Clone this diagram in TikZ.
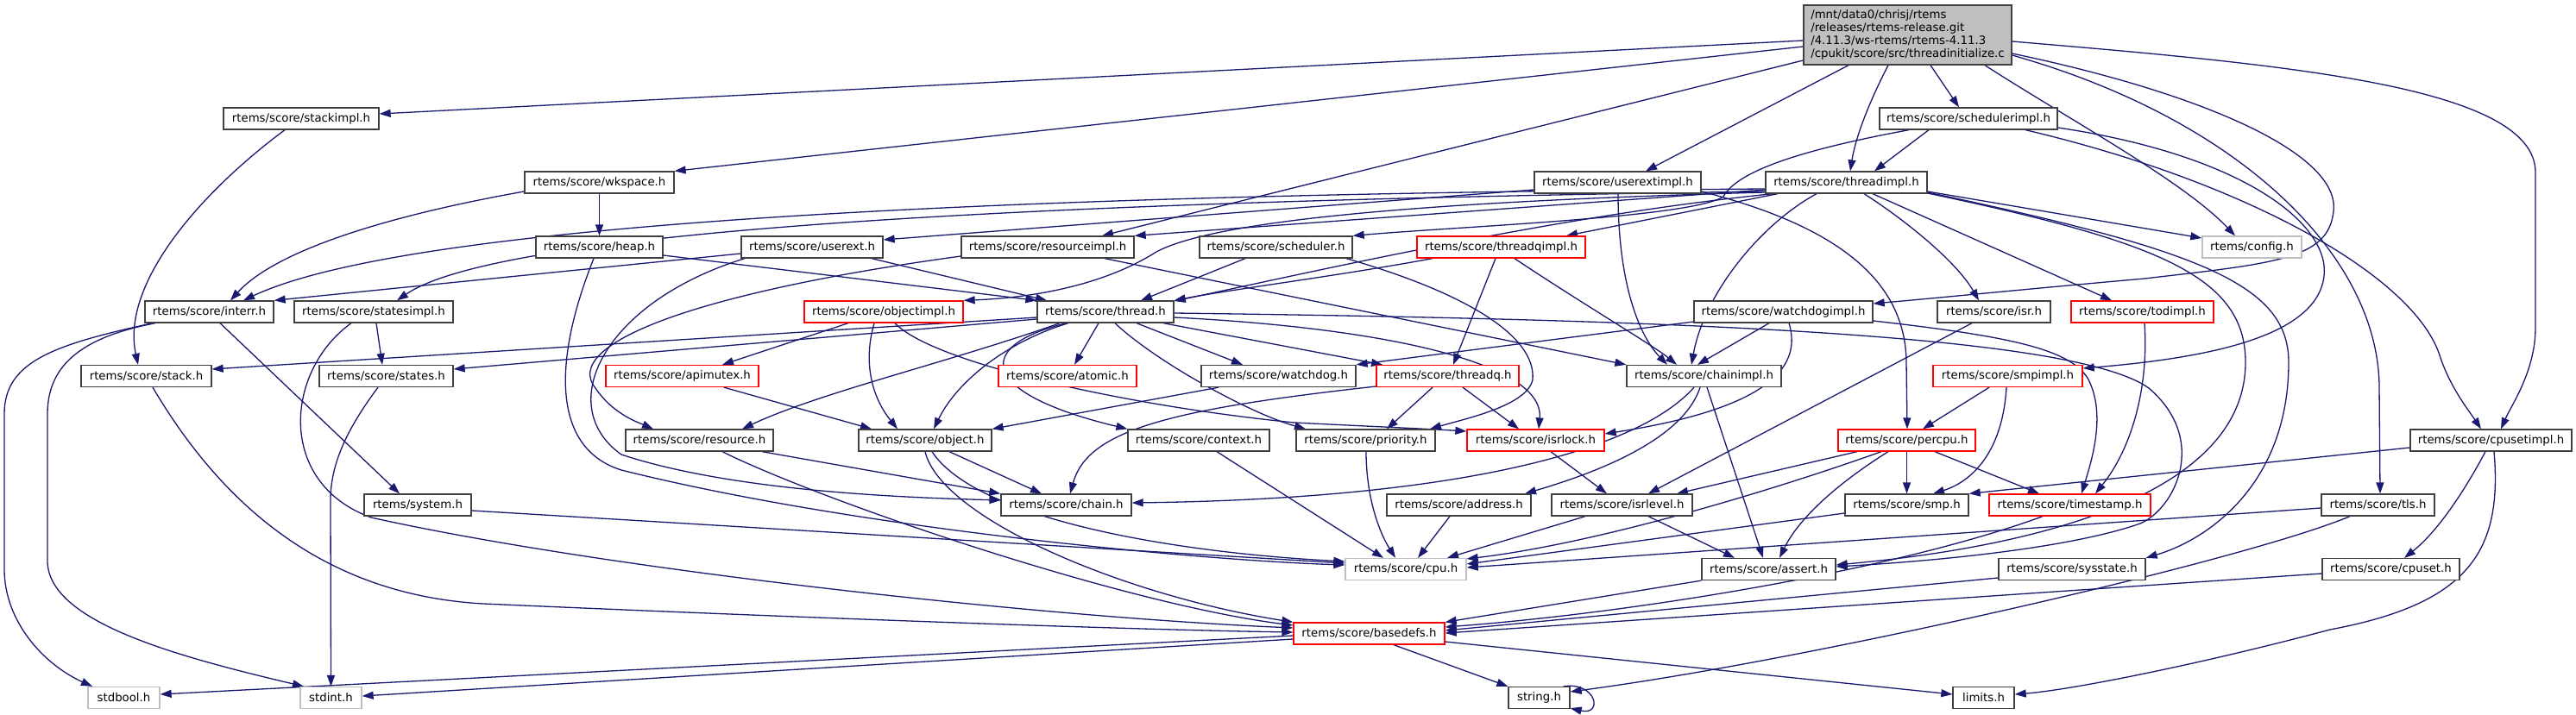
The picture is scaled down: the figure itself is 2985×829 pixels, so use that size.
\documentclass[tikz,border=0pt]{standalone}
\usepackage{fontspec}
\setmainfont{DejaVu Sans}
\usetikzlibrary{arrows.meta}
\definecolor{edgec}{HTML}{191970}
\definecolor{nodeb}{HTML}{404040}
\definecolor{greyb}{HTML}{BFBFBF}
\definecolor{redb}{HTML}{FF0000}
\pgfdeclarelayer{back}
\pgfdeclarelayer{edges}
\pgfsetlayers{back,edges,main}
\newcommand{\dxfont}{\fontsize{13.3}{15}\selectfont}
\begin{document}
\begin{tikzpicture}[x=1pt,y=-1pt,
  nd/.style={draw=nodeb, line width=1.3pt, fill=white, minimum height=25pt, inner sep=2pt, font=\dxfont, text=black},
  rd/.style={nd, draw=redb},
  gd/.style={nd, draw=greyb},
  e/.style={draw=edgec, line width=1.3pt, -{Triangle[length=13pt,width=9pt]}}]
\useasboundingbox (0,0) rectangle (2985,829);
\begin{pgfonlayer}{back}
\fill[white] (0,0) rectangle (2985,829);
\end{pgfonlayer}
% nodes
\node[nd, fill=greyb, minimum width=241pt, minimum height=69pt, align=left] (M) at (2210.5,40.5) {/mnt/data0/chrisj/rtems\\/releases/rtems-release.git\\/4.11.3/ws-rtems/rtems-4.11.3\\/cpukit/score/src/threadinitialize.c};
\node[nd, minimum width=180pt] (stackimpl) at (349,137.5) {rtems/score/stackimpl.h};
\node[nd, minimum width=206pt] (SI) at (2281,137.5) {rtems/score/schedulerimpl.h};
\node[nd, minimum width=173pt] (wkspace) at (694.5,211.5) {rtems/score/wkspace.h};
\node[nd, minimum width=187pt] (TI) at (2139.5,211.5) {rtems/score/threadimpl.h};
\node[nd, minimum width=193pt] (userextimpl) at (1874.5,211.5) {rtems/score/userextimpl.h};
\node[nd, minimum width=147pt] (heap) at (694.5,286.5) {rtems/score/heap.h};
\node[nd, minimum width=164pt] (userext) at (941,286.5) {rtems/score/userext.h};
\node[nd, minimum width=200pt] (resourceimpl) at (1214,286.5) {rtems/score/resourceimpl.h};
\node[nd, minimum width=177pt] (scheduler) at (1478.5,286.5) {rtems/score/scheduler.h};
\node[rd, minimum width=195pt] (threadqimpl) at (1739.5,286.5) {rtems/score/threadqimpl.h};
\node[gd, minimum width=115pt] (config) at (2609.5,286.5) {rtems/config.h};
\node[nd, minimum width=149pt] (interr) at (242.5,361.5) {rtems/score/interr.h};
\node[nd, minimum width=184pt] (statesimpl) at (433,361.5) {rtems/score/statesimpl.h};
\node[rd, minimum width=184pt] (objectimpl) at (1024,361.5) {rtems/score/objectimpl.h};
\node[nd, minimum width=158pt] (thread) at (1281,361.5) {rtems/score/thread.h};
\node[nd, minimum width=207pt] (watchdogimpl) at (2066.5,361.5) {rtems/score/watchdogimpl.h};
\node[nd, minimum width=131pt] (isr) at (2310.5,361.5) {rtems/score/isr.h};
\node[rd, minimum width=165pt] (todimpl) at (2482.5,361.5) {rtems/score/todimpl.h};
\node[nd, minimum width=151pt] (stack) at (169.5,436) {rtems/score/stack.h};
\node[nd, minimum width=155pt] (states) at (447.5,436) {rtems/score/states.h};
\node[rd, minimum width=177pt] (apimutex) at (790.5,436) {rtems/score/apimutex.h};
\node[rd, minimum width=160pt] (atomic) at (1237,436) {rtems/score/atomic.h};
\node[nd, minimum width=179pt] (watchdog) at (1481.5,436) {rtems/score/watchdog.h};
\node[rd, minimum width=165pt] (threadq) at (1677.5,436) {rtems/score/threadq.h};
\node[nd, minimum width=179pt] (chainimpl) at (1974.5,436) {rtems/score/chainimpl.h};
\node[rd, minimum width=173pt] (smpimpl) at (2326.5,436) {rtems/score/smpimpl.h};
\node[nd, minimum width=171pt] (resource) at (810.5,510.5) {rtems/score/resource.h};
\node[nd, minimum width=154pt] (object) at (1072,510.5) {rtems/score/object.h};
\node[nd, minimum width=164pt] (context) at (1389,510.5) {rtems/score/context.h};
\node[nd, minimum width=161pt] (priority) at (1582.5,510.5) {rtems/score/priority.h};
\node[rd, minimum width=159pt] (isrlock) at (1779.5,510.5) {rtems/score/isrlock.h};
\node[rd, minimum width=159pt] (percpu) at (2209.5,510.5) {rtems/score/percpu.h};
\node[nd, minimum width=187pt] (cpusetimpl) at (2886.5,510.5) {rtems/score/cpusetimpl.h};
\node[nd, minimum width=124pt] (system) at (484,585.5) {rtems/system.h};
\node[nd, minimum width=151pt] (chain) at (1235.5,585.5) {rtems/score/chain.h};
\node[nd, minimum width=167pt] (address) at (1690.5,585.5) {rtems/score/address.h};
\node[nd, minimum width=163pt] (isrlevel) at (1879.5,585.5) {rtems/score/isrlevel.h};
\node[nd, minimum width=143pt] (smp) at (2209.5,585.5) {rtems/score/smp.h};
\node[rd, minimum width=187pt] (timestamp) at (2398.5,585.5) {rtems/score/timestamp.h};
\node[nd, minimum width=131pt] (tls) at (2755.5,585.5) {rtems/score/tls.h};
\node[gd, minimum width=140pt] (cpu) at (1629,660) {rtems/score/cpu.h};
\node[nd, minimum width=155pt] (assert) at (2049.5,660) {rtems/score/assert.h};
\node[nd, minimum width=170pt] (sysstate) at (2401,660) {rtems/score/sysstate.h};
\node[nd, minimum width=159pt] (cpuset) at (2770.5,660) {rtems/score/cpuset.h};
\node[rd, minimum width=175pt] (basedefs) at (1586.5,734.5) {rtems/score/basedefs.h};
\node[gd, minimum width=83pt] (stdbool) at (143.5,809) {stdbool.h};
\node[gd, minimum width=71pt] (stdint) at (383.5,809) {stdint.h};
\node[nd, minimum width=71pt] (string) at (1783.5,809) {string.h};
\node[nd, minimum width=71pt] (limits) at (2298.5,809) {limits.h};
% edges
\begin{pgfonlayer}{edges}
\draw[e] ([yshift=-6.5pt]M.west) -- ([yshift=5.5pt]stackimpl.east);
\draw[e] ([yshift=-13.5pt]M.west) -- (wkspace.north east);
\draw[e] ([yshift=-29.5pt]M.west) -- ([xshift=63pt]resourceimpl.north);
\draw[e] ([xshift=-68.5pt]M.south) -- ([xshift=32.5pt]userextimpl.north);
\draw[e] ([xshift=-22.5pt]M.south) .. controls (2165,120) and (2150,160) .. ([xshift=4.5pt]TI.north);
\draw[e] ([xshift=26.5pt]M.south) -- ([xshift=-11pt]SI.north);
\draw[e] ([xshift=89.5pt]M.south) .. controls (2400,140) and (2530,210) .. ([xshift=-19.5pt]config.north);
\draw[e] ([yshift=-21.5pt]M.east) .. controls (2560,110) and (2712,180) .. (2704,245) .. controls (2698,300) and (2640,305) .. (2485,323) .. controls (2350,335) and (2250,345) .. ([yshift=9.5pt]watchdogimpl.east);
\draw[e] ([yshift=-7.5pt]M.east) .. controls (2650,75) and (2938,100) .. (2938,200) -- (2938,380) .. controls (2938,430) and (2910,470) .. ([xshift=11.5pt]cpusetimpl.north);
\draw[e] ([yshift=-23.5pt]M.east) .. controls (2600,140) and (2757,300) .. (2757,450) -- ([xshift=2.5pt]tls.north);
\draw[e] ([xshift=-46pt]SI.south) -- ([xshift=32.5pt]TI.north);
\draw[e] ([xshift=-69pt]SI.south) .. controls (2080,175) and (2012,200) .. (1997,228) .. controls (1960,252) and (1700,262) .. (scheduler.north east);
\draw[e] ([yshift=-10.5pt]SI.east) .. controls (2600,180) and (2700,260) .. (2693,320) .. controls (2685,390) and (2560,415) .. ([yshift=9pt]smpimpl.east);
\draw[e] ([xshift=66pt]SI.south) .. controls (2600,210) and (2800,320) .. (2828,415) .. controls (2840,450) and (2860,475) .. ([xshift=-11.5pt]cpusetimpl.north);
\draw[e] ([yshift=-8.5pt]TI.west) -- (resourceimpl.north east);
\draw[e] ([yshift=-10.5pt]TI.east) -- ([yshift=10.5pt]config.west);
\draw[e] ([yshift=-7.5pt]TI.west) .. controls (1200,225) and (480,255) .. ([xshift=39.5pt]interr.north);
\draw[e] ([yshift=-10.5pt]TI.west) .. controls (1000,236) and (560,280) .. ([xshift=27pt]statesimpl.north);
\draw[e] ([xshift=-79.5pt]TI.south) -- ([xshift=75.5pt]threadqimpl.north);
\draw[e] ([yshift=-11.5pt]TI.west) .. controls (1600,235) and (1400,260) .. (1340,292) .. controls (1280,330) and (1200,345) .. (objectimpl.north east);
\draw[e] ([xshift=-84.5pt]TI.south) .. controls (1800,250) and (1500,320) .. ([yshift=12.5pt]thread.east);
\draw[e] ([xshift=20.5pt]TI.south) .. controls (2200,250) and (2265,300) .. ([xshift=-17.5pt]isr.north);
\draw[e] ([xshift=30.5pt]TI.south) -- ([xshift=-35.5pt]todimpl.north);
\draw[e] ([xshift=-34.5pt]TI.south) .. controls (2040,260) and (1975,340) .. ([xshift=-14.5pt]chainimpl.north);
\draw[e] ([yshift=-12.5pt]TI.east) .. controls (2500,280) and (2602,320) .. (2602,420) .. controls (2602,560) and (2400,630) .. ([yshift=5pt]assert.east);
\draw[e] ([yshift=-11.5pt]TI.east) .. controls (2550,290) and (2652,330) .. (2652,420) .. controls (2652,560) and (2560,625) .. (sysstate.north east);
\draw[e] ([yshift=-8.5pt]userextimpl.west) -- ([yshift=8.5pt]userext.east);
\draw[e] ([xshift=0.5pt]userextimpl.south) .. controls (1875,330) and (1900,390) .. ([xshift=-42.5pt]chainimpl.north);
\draw[e] ([yshift=-10.5pt]userextimpl.east) .. controls (2120,260) and (2208,320) .. (2209,420) -- ([xshift=0.5pt]percpu.north);
\draw[e] ([xshift=-19pt]stackimpl.south) .. controls (230,225) and (140,330) .. ([xshift=-9.5pt]stack.north);
\draw[e] (wkspace.south) -- (heap.north);
\draw[e] ([yshift=-10.5pt]wkspace.west) .. controls (450,250) and (320,290) .. ([xshift=24.5pt]interr.north);
\draw[e] ([yshift=-9.5pt]heap.east) -- (thread.north west);
\draw[e] ([xshift=-6.5pt]heap.south) .. controls (640,420) and (640,520) .. (720,545) .. controls (1000,615) and (1400,650) .. ([yshift=5pt]cpu.west);
\draw[e] ([yshift=-7.5pt]userext.west) -- (interr.north east);
\draw[e] ([xshift=69pt]userext.south) -- ([xshift=-68pt]thread.north);
\draw[e] ([xshift=-78pt]userext.south) .. controls (700,350) and (640,470) .. (720,527) .. controls (850,570) and (1050,577) .. ([yshift=5.5pt]chain.west);
\draw[e] ([yshift=-10.5pt]resourceimpl.west) .. controls (800,340) and (650,400) .. (690,450) .. controls (710,480) and (740,490) .. ([xshift=-53.5pt]resource.north);
\draw[e] ([xshift=66pt]resourceimpl.south) -- (chainimpl.north west);
\draw[e] ([xshift=-35.5pt]scheduler.south) -- ([xshift=41pt]thread.north);
\draw[e] ([xshift=81.5pt]scheduler.south) .. controls (1700,340) and (1780,390) .. (1776,440) .. controls (1770,470) and (1700,485) .. ([xshift=74.5pt]priority.north);
\draw[e] ([xshift=-79.5pt]threadqimpl.south) .. controls (1550,320) and (1430,335) .. (thread.north east);
\draw[e] ([xshift=-6.5pt]threadqimpl.south) -- ([xshift=6.5pt]threadq.north);
\draw[e] ([xshift=15.5pt]threadqimpl.south) .. controls (1830,350) and (1915,400) .. ([xshift=-31.5pt]chainimpl.north);
\draw[e] ([xshift=-41pt]objectimpl.south) -- ([xshift=46.5pt]apimutex.north);
\draw[e] ([xshift=-11pt]objectimpl.south) .. controls (1000,420) and (1010,460) .. ([xshift=-32pt]object.north);
\draw[e] ([xshift=13pt]objectimpl.south) .. controls (1080,420) and (1300,470) .. (1500,490) .. controls (1600,495) and (1650,497) .. ([yshift=10.5pt]isrlock.west);
\draw[e] ([xshift=3pt]statesimpl.south) -- ([xshift=-4.5pt]states.north);
\draw[e] ([xshift=-26pt]statesimpl.south) .. controls (330,430) and (320,560) .. (430,600) .. controls (700,660) and (1200,715) .. ([yshift=6.5pt]basedefs.west);
\draw[e] ([xshift=-65.5pt]interr.south) .. controls (60,400) and (5,420) .. (5,480) -- (5,660) .. controls (5,720) and (50,770) .. ([xshift=-36.5pt]stdbool.north);
\draw[e] ([xshift=-62.5pt]interr.south) .. controls (100,390) and (55,420) .. (55,480) -- (55,650) .. controls (55,720) and (200,760) .. ([xshift=-31.5pt]stdint.north);
\draw[e] ([xshift=12.5pt]interr.south) -- ([xshift=-21pt]system.north);
\draw[e] ([yshift=-6.5pt]thread.west) -- ([yshift=8pt]stack.east);
\draw[e] ([yshift=-8.5pt]thread.west) -- ([yshift=8pt]states.east);
\draw[e] ([xshift=-53pt]thread.south) .. controls (1100,420) and (950,455) .. ([xshift=49.5pt]resource.north);
\draw[e] ([xshift=-43pt]thread.south) .. controls (1170,395) and (1110,440) .. ([xshift=10pt]object.north);
\draw[e] ([xshift=-45pt]thread.south) .. controls (1130,400) and (1130,455) .. (context.north west);
\draw[e] ([xshift=-8pt]thread.south) -- ([xshift=8pt]atomic.north);
\draw[e] ([xshift=11pt]thread.south) .. controls (1340,420) and (1450,480) .. ([xshift=-69.5pt]priority.north);
\draw[e] ([xshift=36pt]thread.south) -- ([xshift=-41.5pt]watchdog.north);
\draw[e] ([xshift=67pt]thread.south) -- ([xshift=-75.5pt]threadq.north);
\draw[e] ([yshift=-6.5pt]thread.east) .. controls (1600,380) and (1790,420) .. ([xshift=3.5pt]isrlock.north);
\draw[e] ([yshift=-1.5pt]thread.east) .. controls (1900,370) and (2400,385) .. (2490,450) .. controls (2560,510) and (2520,590) .. (2480,607) .. controls (2400,635) and (2250,650) .. ([yshift=3pt]assert.east);
\draw[e] ([xshift=7.5pt]stack.south) .. controls (260,590) and (380,690) .. (560,700) .. controls (900,715) and (1300,730) .. ([yshift=1.5pt]basedefs.west);
\draw[e] ([xshift=-9.5pt]states.south) .. controls (400,500) and (383,540) .. (383,580) -- (stdint.north);
\draw[e] ([yshift=-6.5pt]system.east) -- ([yshift=7pt]cpu.west);
\draw[e] ([xshift=48.5pt]apimutex.south) -- ([xshift=-62pt]object.north);
\draw[e] ([xshift=72.5pt]resource.south) -- (chain.north west);
\draw[e] ([xshift=26.5pt]resource.south) .. controls (950,580) and (1300,700) .. ([yshift=9.5pt]basedefs.west);
\draw[e] ([xshift=28pt]object.south) -- ([xshift=-28.5pt]chain.north);
\draw[e] (object.south) .. controls (1090,600) and (1300,690) .. (basedefs.north west);
\draw[e] ([xshift=8pt]object.south) .. controls (1130,600) and (1350,640) .. ([yshift=9pt]cpu.west);
\draw[e] ([xshift=21pt]context.south) -- ([xshift=-26pt]cpu.north);
\draw[e] ([xshift=-69.5pt]watchdog.south) -- (object.north east);
\draw[e] ([yshift=-12pt]threadq.west) .. controls (1350,475) and (1260,500) .. ([xshift=4.5pt]chain.north);
\draw[e] ([xshift=-17.5pt]threadq.south) -- ([xshift=24.5pt]priority.north);
\draw[e] ([xshift=17.5pt]threadq.south) -- ([xshift=-19.5pt]isrlock.north);
\draw[e] ([yshift=-11.5pt]watchdogimpl.west) -- (watchdog.north east);
\draw[e] ([xshift=-16.5pt]watchdogimpl.south) -- ([xshift=-7.5pt]chainimpl.north);
\draw[e] ([xshift=6.5pt]watchdogimpl.south) .. controls (2090,430) and (2040,475) .. ([yshift=7.5pt]isrlock.east);
\draw[e] ([yshift=-10.5pt]watchdogimpl.east) .. controls (2330,390) and (2400,405) .. (2420,440) .. controls (2440,480) and (2425,530) .. ([xshift=13.5pt]timestamp.north);
\draw[e] ([xshift=-25.5pt]isr.south) -- ([xshift=30.5pt]isrlevel.north);
\draw[e] ([xshift=2.5pt]todimpl.south) .. controls (2490,450) and (2470,520) .. ([xshift=29.5pt]timestamp.north);
\draw[e] ([xshift=-11.5pt]chainimpl.south) .. controls (1900,520) and (1700,578) .. ([yshift=2.5pt]chain.east);
\draw[e] ([xshift=-4.5pt]chainimpl.south) .. controls (1950,510) and (1850,548) .. ([xshift=76.5pt]address.north);
\draw[e] ([xshift=3.5pt]chainimpl.south) -- ([xshift=-6.5pt]assert.north);
\draw[e] ([xshift=17.5pt]isrlock.south) -- ([xshift=-17.5pt]isrlevel.north);
\draw[e] ([xshift=-10.5pt]address.south) -- ([xshift=14pt]cpu.north);
\draw[e] ([xshift=0.5pt]priority.south) .. controls (1583,580) and (1600,620) .. ([xshift=-12pt]cpu.north);
\draw[e] ([xshift=-42.5pt]isrlevel.south) -- ([xshift=48pt]cpu.north);
\draw[e] ([xshift=30.5pt]isrlevel.south) -- ([xshift=-39.5pt]assert.north);
\draw[e] ([xshift=-21.5pt]smpimpl.south) -- ([xshift=18.5pt]percpu.north);
\draw[e] ([xshift=-1.5pt]smpimpl.south) .. controls (2320,530) and (2280,560) .. ([xshift=30.5pt]smp.north);
\draw[e] ([xshift=-57.5pt]percpu.south) -- ([xshift=63.5pt]isrlevel.north);
\draw[e] ([xshift=-29.5pt]percpu.south) .. controls (2050,570) and (1850,630) .. ([yshift=12pt]cpu.east);
\draw[e] ([xshift=-21.5pt]percpu.south) .. controls (2130,560) and (2085,600) .. ([xshift=12.5pt]assert.north);
\draw[e] (percpu.south) -- (smp.north);
\draw[e] ([xshift=32.5pt]percpu.south) -- ([xshift=-35.5pt]timestamp.north);
\draw[e] ([yshift=-9.5pt]smp.west) -- ([yshift=6pt]cpu.east);
\draw[e] ([xshift=-31.5pt]timestamp.south) .. controls (2200,660) and (1900,710) .. ([yshift=7.5pt]basedefs.east);
\draw[e] ([yshift=-10pt]sysstate.west) -- ([yshift=3.5pt]basedefs.east);
\draw[e] ([yshift=-5pt]cpuset.west) -- ([yshift=0.5pt]basedefs.east);
\draw[e] (assert.south west) -- (basedefs.north east);
\draw[e] ([yshift=-3.5pt]tls.west) -- ([yshift=2pt]cpu.east);
\draw[e] ([xshift=-32.5pt]tls.south) .. controls (2600,650) and (2100,765) .. ([yshift=7pt]string.east);
\draw[e] ([xshift=-6.5pt]cpusetimpl.south) .. controls (2850,580) and (2820,620) .. ([xshift=15.5pt]cpuset.north);
\draw[e] ([yshift=-8.5pt]cpusetimpl.west) -- (smp.north east);
\draw[e] ([xshift=3.5pt]cpusetimpl.south) .. controls (2900,640) and (2860,700) .. (2700,730) .. controls (2550,770) and (2400,800) .. ([yshift=4pt]limits.east);
\draw[e] ([yshift=-2.5pt]basedefs.west) -- ([yshift=4pt]stdbool.east);
\draw[e] ([yshift=-6.5pt]basedefs.west) -- ([yshift=2pt]stdint.east);
\draw[e] ([xshift=28.5pt]basedefs.south) -- (string.north west);
\draw[e] ([yshift=-9.5pt]basedefs.east) -- ([yshift=4pt]limits.west);
\draw[e] ([xshift=-8pt]string.north east) .. controls (1850,790) and (1858,830) .. ([yshift=1pt]string.south east);
\end{pgfonlayer}
\end{tikzpicture}
\end{document}
